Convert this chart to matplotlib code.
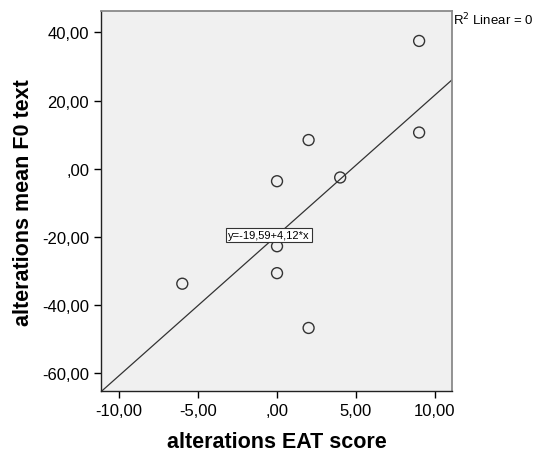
import numpy as np
import matplotlib
matplotlib.use("Agg")
from matplotlib import pyplot as plt
from matplotlib.ticker import FuncFormatter

# data
eat_score = [-6, 0, 0, 0, 2, 2, 4, 9, 9]
mean_f0 = [-33.8, -3.7, -22.8, -30.7, 8.4, -46.8, -2.6, 37.5, 10.6]
intercept = -19.59
slope = 4.12
x_ticks = [-10, -5, 0, 5, 10]
y_ticks = [-60, -40, -20, 0, 20, 40]

plt.rcParams['font.family'] = ['Liberation Sans', 'DejaVu Sans']

def spss_fmt(v, pos=None):
    s = f"{v:.2f}".replace('.', ',')
    if s.startswith('0,'):
        s = s[1:]
    return s

fig = plt.figure(figsize=(5.36, 4.52), dpi=100)
ax = fig.add_axes([0.1884, 0.1321, 0.6554, 0.8414])
ax.set_facecolor('#f0f0f0')

xlim = (-11.15, 11.1)
ylim = (-65.4, 46.3)
ax.set_xlim(*xlim)
ax.set_ylim(*ylim)

# fit line across the full x range
lx = np.array(xlim)
ax.plot(lx, intercept + slope * lx, color='#333333', lw=0.9, zorder=2)

ax.scatter(eat_score, mean_f0, s=62, facecolors='none',
           edgecolors='#333333', linewidths=1.0, zorder=3)

ax.text(-0.5, -19.5, "y=-19,59+4,12*x", fontsize=8, ha='center', va='center',
        bbox=dict(boxstyle='square,pad=0.2', fc='white', ec='#333333', lw=0.8),
        zorder=4)

ax.set_xticks(x_ticks)
ax.set_yticks(y_ticks)
ax.xaxis.set_major_formatter(FuncFormatter(spss_fmt))
ax.yaxis.set_major_formatter(FuncFormatter(spss_fmt))
ax.tick_params(direction='out', length=5, width=1, labelsize=12, colors='black')

for side in ['top', 'right']:
    ax.spines[side].set_color('#8a8a8a')
    ax.spines[side].set_linewidth(1.3)
for side in ['left', 'bottom']:
    ax.spines[side].set_color('#222222')
    ax.spines[side].set_linewidth(1.0)

ax.set_xlabel("alterations EAT score", fontsize=15.5, fontweight='bold', labelpad=9)
ax.set_ylabel("alterations mean F0 text", fontsize=15.5, fontweight='bold', labelpad=6)

fig.text(0.845, 0.956, "R$^2$ Linear = 0", fontsize=9.5, ha='left', va='center')

fig.savefig("out.png", dpi=100)
